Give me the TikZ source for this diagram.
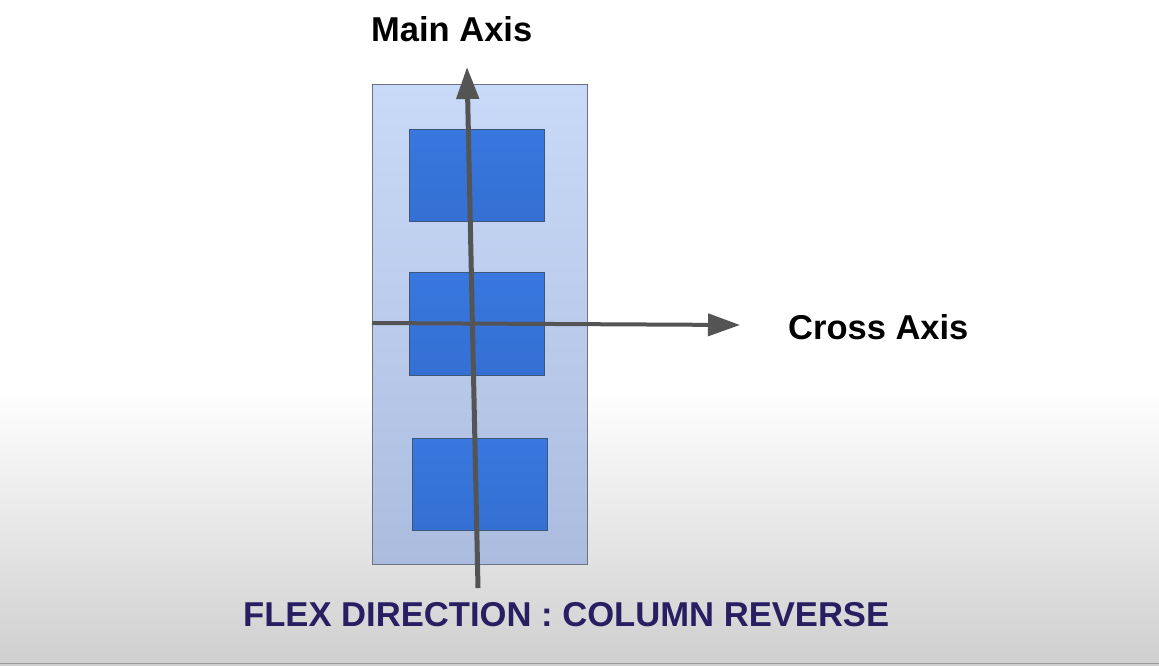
\documentclass[tikz,border=0pt]{standalone}
\usepackage{fontspec}
\setmainfont{Liberation Sans}
\usetikzlibrary{arrows.meta}
\definecolor{bggray}{HTML}{CFCFCF}
\definecolor{edgegray}{HTML}{9A9A9A}
\definecolor{conttop}{HTML}{C9DAF8}
\definecolor{contbot}{HTML}{ABBCDF}
\definecolor{contedge}{HTML}{6B7480}
\definecolor{boxtop}{HTML}{3877DE}
\definecolor{boxbot}{HTML}{3470D4}
\definecolor{boxedge}{HTML}{3E5778}
\definecolor{axisgray}{HTML}{545454}
\definecolor{flexcol}{HTML}{281E62}
\tikzset{
  container/.style={draw=contedge, line width=1pt, top color=conttop, bottom color=contbot,
    minimum width=215pt, minimum height=480pt, inner sep=0pt},
  itembox/.style={draw=boxedge, line width=1pt, top color=boxtop, bottom color=boxbot,
    minimum width=135pt, inner sep=0pt},
  axisline/.style={draw=axisgray, line width=5pt, -{Triangle[width=22pt,length=32pt]}},
  axislabel/.style={font=\fontsize{34.5}{40}\selectfont\bfseries, text=black, inner sep=0pt, anchor=base west},
  flexlabel/.style={font=\fontsize{34.5}{40}\selectfont\bfseries, text=flexcol, inner sep=0pt, anchor=base west}
}
\begin{document}
\begin{tikzpicture}[x=1pt,y=-1pt]
\useasboundingbox (0,0) rectangle (1159,665);
\fill[white] (0,0) rectangle (1159,390);
\shade[top color=white, bottom color=bggray] (0,390) rectangle (1159,665);
\draw[edgegray, line width=1.5pt] (0,663.5) -- (1159,663.5);

\node[container] (cont) at (479.5,324) {};
\node[itembox, minimum height=92pt] (box1) at (476.5,175) {};
\node[itembox, minimum height=103pt] (box2) at (476.5,323.5) {};
\node[itembox, minimum height=92pt] (box3) at (479.5,484) {};

\coordinate (mainS) at (478,588);
\coordinate (mainE) at (467,67);
\draw[axisline] (mainS) -- (mainE);
\coordinate (crossS) at (372,323);
\coordinate (crossE) at (740,325);
\draw[axisline, line width=4pt] (crossS) -- (crossE);

\node[axislabel] (mainlbl) at (371,41) {Main Axis};
\node[axislabel] (crosslbl) at (788,339) {Cross Axis};
\node[flexlabel, xscale=1.003] (flexlbl) at (243,626) {FLEX DIRECTION : COLUMN REVERSE};
\end{tikzpicture}
\end{document}
